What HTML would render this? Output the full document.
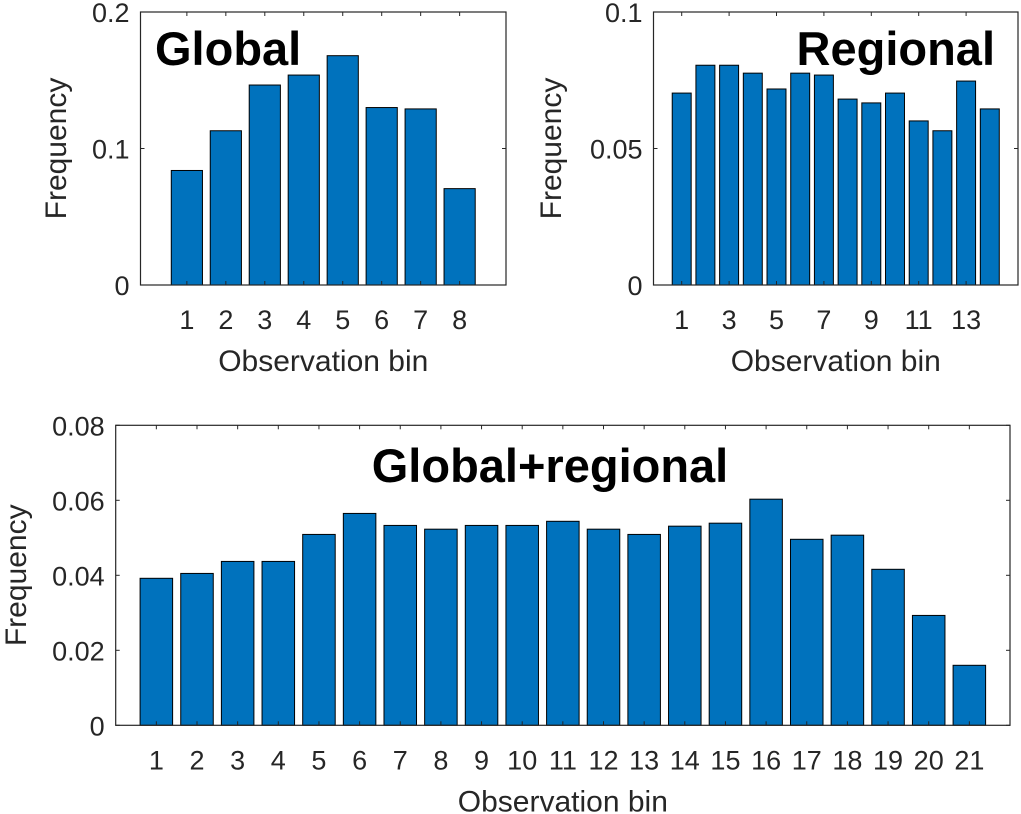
<!DOCTYPE html>
<html><head><meta charset="utf-8"><style>
body{margin:0;background:#fff;}
svg{display:block;font-family:"Liberation Sans",Helvetica,Arial,sans-serif;}
</style></head><body>
<svg id="fig" width="1021" height="814" viewBox="0 0 1021 814"></svg>
<script>
const globalBins=[1,2,3,4,5,6,7,8];
const globalFreq=[0.0839,0.113,0.1465,0.1538,0.168,0.130,0.129,0.0706];
const globalYTicks=[0,0.1,0.2];
const globalYTickLabels=["0","0.1","0.2"];
const globalXTicks=[1,2,3,4,5,6,7,8];

const regionalBins=[1,2,3,4,5,6,7,8,9,10,11,12,13,14];
const regionalFreq=[0.0703,0.0805,0.0805,0.0776,0.0718,0.0776,0.0769,0.0681,0.0667,0.0703,0.0601,0.0565,0.0747,0.0645];
const regionalYTicks=[0,0.05,0.1];
const regionalYTickLabels=["0","0.05","0.1"];
const regionalXTicks=[1,3,5,7,9,11,13];

const combinedBins=[1,2,3,4,5,6,7,8,9,10,11,12,13,14,15,16,17,18,19,20,21];
const combinedFreq=[0.0392,0.0405,0.0437,0.0437,0.0509,0.0565,0.0533,0.0523,0.0533,0.0533,0.0544,0.0523,0.0509,0.0531,0.0539,0.0603,0.0496,0.0507,0.0416,0.0293,0.016];
const combinedYTicks=[0,0.02,0.04,0.06,0.08];
const combinedYTickLabels=["0","0.02","0.04","0.06","0.08"];
const combinedXTicks=[1,2,3,4,5,6,7,8,9,10,11,12,13,14,15,16,17,18,19,20,21];

const NS="http://www.w3.org/2000/svg";
const svg=document.getElementById('fig');
function mk(tag,attrs,parent){const e=document.createElementNS(NS,tag);for(const k in attrs)e.setAttribute(k,attrs[k]);(parent||svg).appendChild(e);return e;}

function chart(o){
  const g=mk('g',{});
  
  
  const xs=v=>o.L+(v-o.xmin)/(o.xmax-o.xmin)*(o.R-o.L);
  const ys=v=>o.B-(v-o.ymin)/(o.ymax-o.ymin)*(o.B-o.T);
  const unit=xs(1)-xs(0);
  o.bins.forEach((b,i)=>{
    const r=mk('rect',{x:xs(b)-0.4*unit,y:ys(o.vals[i]),width:0.8*unit,height:ys(0)-ys(o.vals[i]),fill:'#0072BD',stroke:'#000','stroke-width':1},g);
    
    
  });
  const box=mk('rect',{x:o.L,y:o.T,width:o.R-o.L,height:o.B-o.T,fill:'none',stroke:'#262626','stroke-width':1.2},g);
  
  
  o.xticks.forEach(t=>{
    const x=xs(t);
    mk('line',{x1:x,x2:x,y1:o.B,y2:o.B-4,stroke:'#262626'},g);
    mk('line',{x1:x,x2:x,y1:o.T,y2:o.T+4,stroke:'#262626'},g);
    const tx=mk('text',{x:x,y:o.B+44,'text-anchor':'middle','font-size':27,fill:'#262626'},g);
    tx.textContent=t;
    
    
  });
  o.yticks.forEach((t,i)=>{
    const y=ys(t);
    mk('line',{x1:o.L,x2:o.L+4,y1:y,y2:y,stroke:'#262626'},g);
    mk('line',{x1:o.R,x2:o.R-4,y1:y,y2:y,stroke:'#262626'},g);
    const ty=mk('text',{x:o.L-11,y:y+10,'text-anchor':'end','font-size':27,fill:'#262626'},g);
    ty.textContent=o.ylabels[i];
    
    
  });
  const xl=mk('text',{x:(o.L+o.R)/2,y:o.B+86,'text-anchor':'middle','font-size':30,fill:'#262626'},g);
  xl.textContent='Observation bin';
  
  
  const yl=mk('text',{x:0,y:0,'text-anchor':'middle','font-size':30,fill:'#262626',transform:`translate(${o.ylx},${(o.T+o.B)/2}) rotate(-90)`},g);
  yl.textContent='Frequency';
  
  
  const ti=mk('text',{x:o.tx,y:o.ty,'text-anchor':o.ta,'font-size':47,'font-weight':'bold',fill:'#000'},g);
  ti.textContent=o.title;
  
  
}
chart({name:'global-chart',L:140.5,R:506,T:12,B:285,xmin:-0.19,xmax:9.19,ymin:0,ymax:0.2,bins:globalBins,vals:globalFreq,xticks:globalXTicks,yticks:globalYTicks,ylabels:globalYTickLabels,ylx:66,title:'Global',tx:155,ty:65,ta:'start'});
chart({name:'regional-chart',L:653.5,R:1018,T:12,B:285,xmin:-0.19,xmax:15.19,ymin:0,ymax:0.1,bins:regionalBins,vals:regionalFreq,xticks:regionalXTicks,yticks:regionalYTicks,ylabels:regionalYTickLabels,ylx:561,title:'Regional',tx:995,ty:65,ta:'end'});
chart({name:'combined-chart',L:115.7,R:1010,T:425.3,B:725.3,xmin:0,xmax:22,ymin:0,ymax:0.08,bins:combinedBins,vals:combinedFreq,xticks:combinedXTicks,yticks:combinedYTicks,ylabels:combinedYTickLabels,ylx:26,title:'Global+regional',tx:550,ty:482,ta:'middle'});
</script>
</body></html>
